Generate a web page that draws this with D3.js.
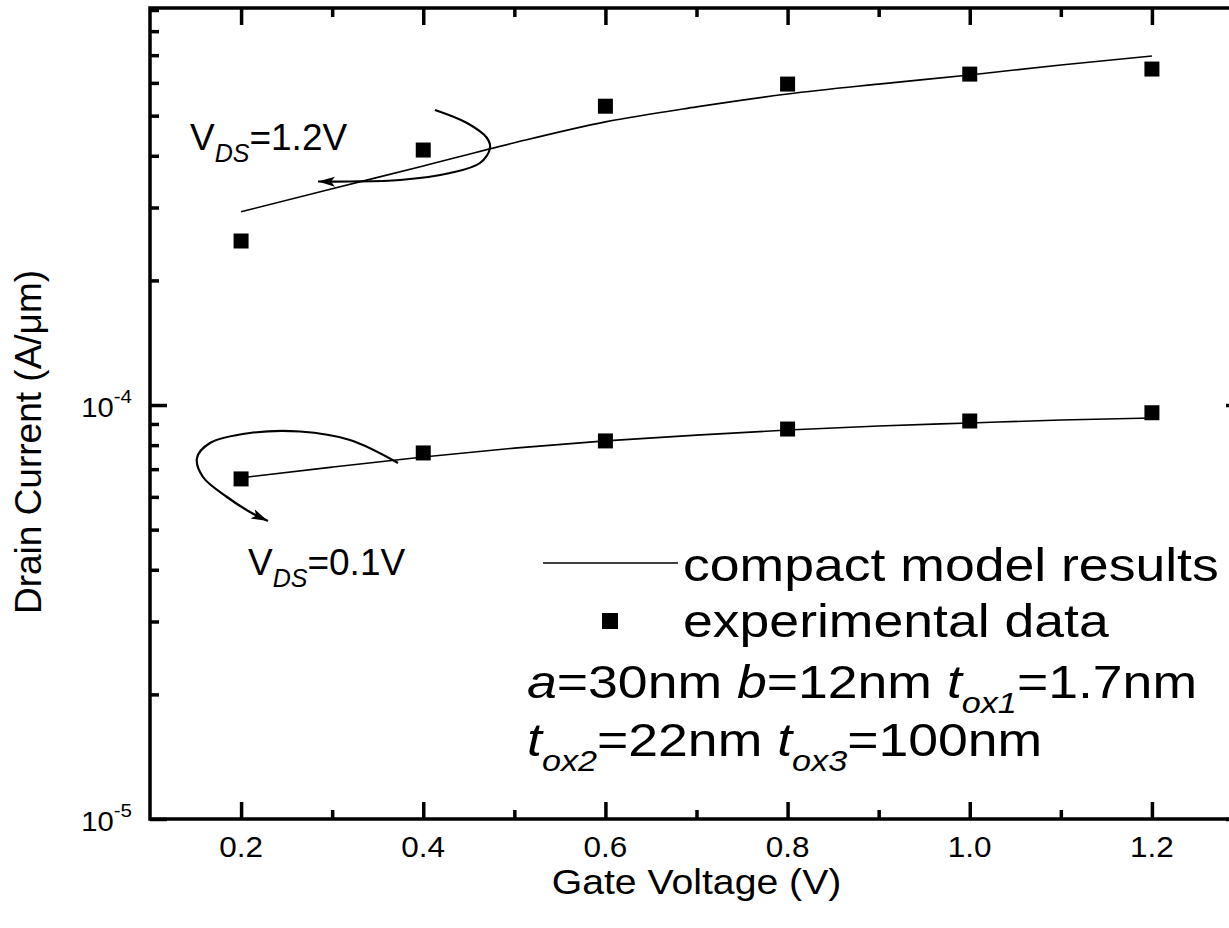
<!DOCTYPE html>
<html><head><meta charset="utf-8">
<script src="https://cdn.jsdelivr.net/npm/d3@7"></script>
<style>
body{margin:0;background:#fff;}
svg{display:block;background:#fff;}
text{font-family:"Liberation Sans", Arial, Helvetica, sans-serif; fill:#000; white-space:pre;}
</style></head><body>
<svg id="chart" width="1229" height="928"></svg>
<script>
// ---- data ----
const gateVoltage = [0.2, 0.4, 0.6, 0.8, 1.0, 1.2];
const expHigh = [2.49e-4, 4.13e-4, 5.27e-4, 5.96e-4, 6.30e-4, 6.48e-4];   // VDS = 1.2 V
const expLow  = [6.63e-5, 7.66e-5, 8.19e-5, 8.75e-5, 9.15e-5, 9.58e-5];   // VDS = 0.1 V
const modelVoltage = [0.2, 0.3, 0.4, 0.5, 0.6, 0.7, 0.8, 0.9, 1.0, 1.1, 1.2];
const modelHigh = [2.93e-4, 3.33e-4, 3.78e-4, 4.30e-4, 4.83e-4, 5.25e-4, 5.64e-4, 5.96e-4, 6.27e-4, 6.63e-4, 6.97e-4];
const modelLow  = [6.67e-5, 7.08e-5, 7.49e-5, 7.87e-5, 8.19e-5, 8.46e-5, 8.70e-5, 8.90e-5, 9.05e-5, 9.20e-5, 9.30e-5];
const xMajorTicks = [0.2, 0.4, 0.6, 0.8, 1.0, 1.2];
const xTickLabels = ["0.2", "0.4", "0.6", "0.8", "1.0", "1.2"];
const xMinorTicks = [0.3, 0.5, 0.7, 0.9, 1.1];
const yMajorTicks = [1e-5, 1e-4];
const yTickBase = ["10", "10"];
const yTickExp = ["-5", "-4"];
const yMinorTicks = [2e-5, 3e-5, 4e-5, 5e-5, 6e-5, 7e-5, 8e-5, 9e-5, 2e-4, 3e-4, 4e-4, 5e-4, 6e-4, 7e-4, 8e-4, 9e-4];
const xTitle = "Gate Voltage (V)";
const yTitle = "Drain Current (A/\u03bcm)";
const legendLine = "compact model results";
const legendSquare = "experimental data";

// ---- layout ----
const L = 150, R = 1243, T = 8, B = 819;
const svg = d3.select("#chart");
const x = d3.scaleLinear().domain([0.1, 1.3]).range([L, R]);
const y = d3.scaleLog().domain([1e-5, 9.1e-4]).range([B, T]);

const MAJ = 17, MIN = 9, AX = 3.5;

function styleAxis(g) {
  g.select(".domain").remove();
  g.selectAll(".tick line").attr("stroke", "#000").attr("stroke-width", AX);
  g.selectAll(".tick text").remove();
}
// bottom
svg.append("g").attr("transform", `translate(0,${B})`)
  .call(d3.axisBottom(x).tickValues(xMajorTicks).tickSize(-MAJ)).call(styleAxis);
svg.append("g").attr("transform", `translate(0,${B})`)
  .call(d3.axisBottom(x).tickValues(xMinorTicks).tickSize(-MIN)).call(styleAxis);
// top
svg.append("g").attr("transform", `translate(0,${T})`)
  .call(d3.axisTop(x).tickValues(xMajorTicks).tickSize(-MAJ)).call(styleAxis);
svg.append("g").attr("transform", `translate(0,${T})`)
  .call(d3.axisTop(x).tickValues(xMinorTicks).tickSize(-MIN)).call(styleAxis);
// left
svg.append("g").attr("transform", `translate(${L},0)`)
  .call(d3.axisLeft(y).tickValues(yMajorTicks).tickSize(-MAJ)).call(styleAxis);
svg.append("g").attr("transform", `translate(${L},0)`)
  .call(d3.axisLeft(y).tickValues(yMinorTicks).tickSize(-MIN)).call(styleAxis);
// right
svg.append("g").attr("transform", `translate(${R},0)`)
  .call(d3.axisRight(y).tickValues(yMajorTicks).tickSize(-MAJ)).call(styleAxis);
svg.append("g").attr("transform", `translate(${R},0)`)
  .call(d3.axisRight(y).tickValues(yMinorTicks).tickSize(-MIN)).call(styleAxis);

// frame
svg.append("rect").attr("x", L).attr("y", T).attr("width", R - L).attr("height", B - T)
  .attr("fill", "none").attr("stroke", "#000").attr("stroke-width", AX);

// ---- text helper ----
function sText(px, py, sx, size, anchor, rot) {
  return svg.append("text")
    .attr("transform", `translate(${px},${py})` + (rot ? ` rotate(${rot})` : "") + ` scale(${sx},1)`)
    .attr("font-size", size)
    .attr("text-anchor", anchor || "start");
}

// x tick labels
xMajorTicks.forEach((v, i) => {
  sText(x(v), 857, 1.05, 30, "middle").text(xTickLabels[i]);
});
// y tick labels
yMajorTicks.forEach((v, i) => {
  const t = sText(L - 18, y(v) + 11.5, 1.08, 27, "end");
  t.append("tspan").text(yTickBase[i]);
  t.append("tspan").attr("font-size", 19).attr("dy", -14).text(yTickExp[i]);
});
// axis titles
sText((L + R) / 2, 894, 1.12, 35, "middle").text(xTitle);
sText(41, 442, 1.0, 37, "middle", -90).text(yTitle);

// ---- model lines ----
const lineGen = d3.line().x(d => x(d[0])).y(d => y(d[1])).curve(d3.curveMonotoneX);
[modelHigh, modelLow].forEach(series => {
  svg.append("path")
    .attr("d", lineGen(modelVoltage.map((v, i) => [v, series[i]])))
    .attr("fill", "none").attr("stroke", "#000").attr("stroke-width", 1.6);
});

// ---- experimental squares ----
const sq = d3.symbol().type(d3.symbolSquare).size(225);
[expHigh, expLow].forEach(series => {
  svg.append("g").selectAll("path")
    .data(gateVoltage.map((v, i) => [v, series[i]]))
    .join("path")
    .attr("transform", d => `translate(${x(d[0])},${y(d[1])})`)
    .attr("d", sq).attr("fill", "#000");
});

// ---- annotation arrows ----
const defs = svg.append("defs");
defs.append("marker").attr("id", "ah").attr("markerUnits", "userSpaceOnUse")
  .attr("viewBox", "-17 -6 18 12").attr("refX", 0).attr("refY", 0)
  .attr("markerWidth", 18).attr("markerHeight", 12).attr("orient", "auto")
  .append("path").attr("d", "M0,0 L-17,-5 L-13,0 L-17,5 Z").attr("fill", "#000");

const arrowHigh = [[435,110],[467,123],[487,138],[490,148],[480,163],[450,173],[400,180],[350,181.5],[318,181.5]];
const arrowLow = [[398,463],[350,440],[300,431.5],[250,433],[210,443],[197,458],[203,477],[227,497],[250,512],[268,521]];
const arrowGen = d3.line().curve(d3.curveCatmullRom.alpha(0.5));
[arrowHigh, arrowLow].forEach(pts => {
  svg.append("path").attr("d", arrowGen(pts)).attr("fill", "none")
    .attr("stroke", "#000").attr("stroke-width", 2.2).attr("marker-end", "url(#ah)");
});

// annotations
function vdsLabel(px, py, val) {
  const t = sText(px, py, 1.0, 37, "start");
  t.append("tspan").text("V");
  t.append("tspan").attr("font-size", 25).attr("font-style", "italic").attr("dy", 12).text("DS");
  t.append("tspan").attr("dy", -12).text("=" + val);
}
vdsLabel(190, 150, "1.2V");
vdsLabel(248, 575, "0.1V");

// ---- legend ----
svg.append("line").attr("x1", 543).attr("x2", 678).attr("y1", 563).attr("y2", 563)
  .attr("stroke", "#000").attr("stroke-width", 1.6);
sText(683, 581, 1.14, 47, "start").text(legendLine);
svg.append("rect").attr("x", 602).attr("y", 613).attr("width", 16).attr("height", 16).attr("fill", "#000");
sText(683, 637, 1.14, 47, "start").text(legendSquare);

const l3 = sText(527, 698, 1.14, 47, "start");
l3.append("tspan").attr("font-style", "italic").text("a");
l3.append("tspan").text("=30nm ");
l3.append("tspan").attr("font-style", "italic").text("b");
l3.append("tspan").text("=12nm ");
l3.append("tspan").attr("font-style", "italic").text("t");
l3.append("tspan").attr("font-style", "italic").attr("font-size", 30).attr("dy", 15).text("ox1");
l3.append("tspan").attr("dy", -15).text("=1.7nm");

const l4 = sText(527, 756, 1.14, 47, "start");
l4.append("tspan").attr("font-style", "italic").text("t");
l4.append("tspan").attr("font-style", "italic").attr("font-size", 30).attr("dy", 15).text("ox2");
l4.append("tspan").attr("dy", -15).text("=22nm ");
l4.append("tspan").attr("font-style", "italic").text("t");
l4.append("tspan").attr("font-style", "italic").attr("font-size", 30).attr("dy", 15).text("ox3");
l4.append("tspan").attr("dy", -15).text("=100nm");
</script>
</body></html>
